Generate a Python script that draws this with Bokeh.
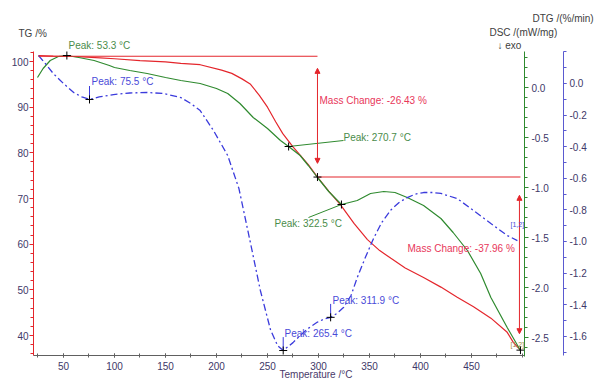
from bokeh.plotting import figure
from bokeh.models import (LinearAxis, Range1d, FixedTicker, PrintfTickFormatter,
                          Label, Arrow, NormalHead)
from bokeh.embed import file_html
from bokeh.resources import INLINE

# ---------------- data ----------------
T_TG = [25.5, 40, 60, 86, 100, 125, 150, 165, 184, 205, 215, 225, 233, 242, 250, 258,
        265, 275, 282, 290, 299, 310, 322, 335, 348, 360, 371, 385, 403, 420, 436, 452,
        469, 485, 491, 498]
TG = [101.3, 101.2, 101.1, 100.8, 100.6, 100.2, 99.9, 99.6, 99.3, 98.1, 97.4, 96.2, 95.1,
      92.6, 90.0, 86.8, 84.2, 81.3, 79.5, 77.4, 74.7, 71.6, 68.5, 64.5, 61.0, 58.6, 56.9,
      54.8, 52.7, 50.6, 48.4, 46.3, 43.8, 40.7, 38.5, 36.8]

T_DSC = [24.5, 30, 37, 45, 53.3, 65, 80, 95, 100, 115, 132, 150, 165, 184, 200, 211, 223,
         236, 250, 262.7, 270.7, 282, 290, 299, 310, 322.5, 338, 351, 364, 375, 387, 403,
         420, 432, 446, 459, 469, 485, 498]
DSC = [0.10, 0.19, 0.27, 0.31, 0.32, 0.30, 0.27, 0.22, 0.20, 0.17, 0.14, 0.10, 0.07, 0.04,
       -0.01, -0.06, -0.16, -0.30, -0.41, -0.53, -0.59, -0.68, -0.78, -0.90, -1.04, -1.17,
       -1.13, -1.06, -1.04, -1.05, -1.10, -1.18, -1.31, -1.45, -1.63, -1.86, -2.10, -2.40,
       -2.63]

T_DTG = [25.5, 33, 40, 50, 60, 68, 75.5, 85, 99, 115, 132, 148, 165, 175, 184, 197, 211,
         222, 233, 243, 253, 260, 265.4, 275, 282, 290, 299, 306, 311.9, 318, 324.5, 332,
         338, 346, 354, 362, 371, 379, 387, 395, 403, 412, 420, 436, 452, 469, 485, 495]
DTG = [0.177, 0.12, 0.063, 0.0, -0.057, -0.085, -0.101, -0.085, -0.070, -0.060, -0.057,
       -0.063, -0.089, -0.127, -0.171, -0.297, -0.456, -0.665, -1.00, -1.31, -1.56, -1.66,
       -1.69, -1.64, -1.595, -1.55, -1.51, -1.49, -1.48, -1.456, -1.418, -1.34, -1.228,
       -1.10, -0.98, -0.88, -0.80, -0.753, -0.722, -0.70, -0.690, -0.690, -0.696, -0.728,
       -0.804, -0.886, -0.962, -0.994]

DSC_PEAKS_T = [53.3, 270.7, 322.5]
DSC_PEAKS_V = [0.32, -0.59, -1.17]
DTG_PEAKS_T = [75.5, 265.4, 311.9]
DTG_PEAKS_V = [-0.101, -1.69, -1.48]

TG_START = 101.16
STEP1_END_T = 299
STEP1_END_TG = 74.7
END_T = 498
END_TG = 36.8
MASS_CHANGES = ["-26.43", "-37.96"]

X_TICKS = [50, 100, 150, 200, 250, 300, 350, 400, 450]
TG_TICKS = [40, 50, 60, 70, 80, 90, 100]
DSC_TICKS = [0.0, -0.5, -1.0, -1.5, -2.0, -2.5]
DTG_TICKS = [0.0, -0.2, -0.4, -0.6, -0.8, -1.0, -1.2, -1.4, -1.6]

# axis extents (the plotting box of the original instrument chart)
T_LO, T_HI = 20.6, 502.0
TG_LO, TG_HI = 35.62, 102.19
DSC_LO, DSC_HI = -2.69, 0.361
DTG_LO, DTG_HI = -1.720, 0.202
DTG_AXIS_T = 540.2          # where the outer (DTG) axis stands

# ---------------- styles ----------------
FONT = "Liberation Sans"
RED = "#e4262c"
GREEN = "#2f8a2f"
BLUE = "#3b3bdc"
TXT_RED = "#e8365a"
TXT_GREEN = "#4a8c4a"
TXT_BLUE = "#4a4ad8"
TICK_TXT = "#403868"
FS = "10px"

# the frame fills the whole canvas; the axes are pinned inside it
p = figure(width=600, height=389, x_range=Range1d(-11.76, 576.47), y_range=Range1d(28.18, 113.36),
           output_backend="svg", toolbar_location=None,
           min_border_left=0, min_border_right=0, min_border_top=0, min_border_bottom=0)
p.extra_y_ranges = {"dsc": Range1d(-3.02, 0.87), "dtg": Range1d(-1.9367, 0.5253)}
p.grid.visible = False
p.outline_line_color = None
p.background_fill_color = "white"
p.border_fill_color = "white"


def style_axis(ax, color, tin=0, tout=3, standoff=2):
    ax.axis_line_color = color
    ax.major_tick_line_color = color
    ax.minor_tick_line_color = color
    ax.major_tick_in = tin
    ax.major_tick_out = tout
    ax.minor_tick_in = tin
    ax.minor_tick_out = max(tout - 1, 0) if tout else 0
    ax.major_label_text_font = FONT
    ax.major_label_text_font_size = FS
    ax.major_label_text_color = TICK_TXT
    ax.major_label_standoff = standoff


xa = p.xaxis[0]
xa.fixed_location = TG_LO
xa.bounds = (T_LO, T_HI)
xa.ticker = FixedTicker(ticks=X_TICKS, minor_ticks=list(range(25, 501, 25)))
style_axis(xa, "#606060", tin=2, tout=2, standoff=4)
xa.minor_tick_in = 2
xa.minor_tick_out = 2

ya = p.yaxis[0]
ya.fixed_location = T_LO
ya.bounds = (TG_LO, TG_HI)
ya.ticker = FixedTicker(ticks=TG_TICKS, minor_ticks=list(range(36, 103, 2)))
style_axis(ya, RED, tout=4, standoff=1)
ya.minor_tick_out = 3

ga = LinearAxis(y_range_name="dsc", fixed_location=T_HI, bounds=(DSC_LO, DSC_HI))
ga.ticker = FixedTicker(ticks=DSC_TICKS, minor_ticks=[round(-2.6 + 0.1 * i, 1) for i in range(30)])
ga.formatter = PrintfTickFormatter(format="%.1f")
style_axis(ga, GREEN, tout=4, standoff=3)
ga.minor_tick_out = 3
p.add_layout(ga, "right")

ba = LinearAxis(y_range_name="dtg", fixed_location=DTG_AXIS_T, bounds=(DTG_LO, DTG_HI))
ba.ticker = FixedTicker(ticks=DTG_TICKS, minor_ticks=[round(-1.7 + 0.1 * i, 1) for i in range(20)])
ba.formatter = PrintfTickFormatter(format="%.1f")
style_axis(ba, "#5a5ad0", tout=3, standoff=3)
ba.minor_tick_out = 3
p.add_layout(ba, "right")

# ---------------- curves ----------------
p.line(T_TG, TG, line_color=RED, line_width=1.2)
p.line(T_DSC, DSC, line_color=GREEN, line_width=1.2, y_range_name="dsc")
p.line(T_DTG, DTG, line_color=BLUE, line_width=1.3, line_dash="7 3 2 3", y_range_name="dtg")

# mass change reference lines
p.line([T_TG[0], STEP1_END_T], [TG_START, TG_START], line_color=RED, line_width=1.1)
p.line([STEP1_END_T, END_T], [STEP1_END_TG, STEP1_END_TG], line_color=RED, line_width=1.1)

for (x0, y0, y1) in [(STEP1_END_T, 98.5, 77.7), (END_T - 1, 70.7, 40.4)]:
    p.add_layout(Arrow(x_start=x0, y_start=y0, x_end=x0, y_end=y1, line_color=RED, line_width=1,
                       start=NormalHead(size=5, fill_color=RED, line_color=RED),
                       end=NormalHead(size=5, fill_color=RED, line_color=RED)))

# leader lines
p.line([DSC_PEAKS_T[1], 324.5], [DSC_PEAKS_V[1], -0.53], line_color=GREEN, line_width=1, y_range_name="dsc")
p.line([DSC_PEAKS_T[2], 290.2], [DSC_PEAKS_V[2], -1.30], line_color=GREEN, line_width=1, y_range_name="dsc")
for t, v in zip(DTG_PEAKS_T, DTG_PEAKS_V):
    p.line([t, t], [v + 0.085, v], line_color=BLUE, line_width=1, y_range_name="dtg")

# markers
p.scatter(DSC_PEAKS_T, DSC_PEAKS_V, marker="cross", size=8, line_color="black", line_width=1,
          y_range_name="dsc")
p.scatter(DTG_PEAKS_T, DTG_PEAKS_V, marker="cross", size=8, line_color="black", line_width=1,
          y_range_name="dtg")
p.scatter([STEP1_END_T, END_T], [STEP1_END_TG, END_TG], marker="cross", size=8,
          line_color="black", line_width=1)


def lab(text, x, y, color, rng=None, size=FS, align="left"):
    kw = dict(x=x, y=y, text=text, text_font=FONT, text_font_size=size, text_color=color,
              text_baseline="middle", text_align=align)
    if rng:
        kw["y_range_name"] = rng
    p.add_layout(Label(**kw))


lab("Peak: %.1f °C" % DSC_PEAKS_T[0], 54.9, 0.42, TXT_GREEN, "dsc")
lab("Peak: %.1f °C" % DTG_PEAKS_T[0], 77.5, 0.013, TXT_BLUE, "dtg")
lab("Peak: %.1f °C" % DSC_PEAKS_T[1], 324.5, -0.50, TXT_GREEN, "dsc")
lab("Peak: %.1f °C" % DSC_PEAKS_T[2], 256.9, -1.36, TXT_GREEN, "dsc")
lab("Peak: %.1f °C" % DTG_PEAKS_T[1], 266.7, -1.582, TXT_BLUE, "dtg")
lab("Peak: %.1f °C" % DTG_PEAKS_T[2], 313.7, -1.373, TXT_BLUE, "dtg")
lab("Mass Change: %s %%" % MASS_CHANGES[0], 301, 91.46, TXT_RED)
lab("Mass Change: %s %%" % MASS_CHANGES[1], 387.3, 59.05, TXT_RED)
lab("[1,2]", 488.2, -0.892, TXT_BLUE, "dtg", size="7px")
lab("[1,2]", 488.2, -2.57, "#a08a3a", "dsc", size="7px")

# axis titles
lab("TG /%", 5.9, 106.1, "#404040")
lab("DSC /(mW/mg)", 467.6, 0.55, "#404040", "dsc")
lab("↓ exo", 475.5, 0.42, "#404040", "dsc")
lab("DTG /(%/min)", 509.8, 0.69, "#404040", "dsc")
lab("Temperature /°C", 261.8, 31.46, "#4a3a6a")

open("out.html", "w").write(file_html(p, INLINE))
